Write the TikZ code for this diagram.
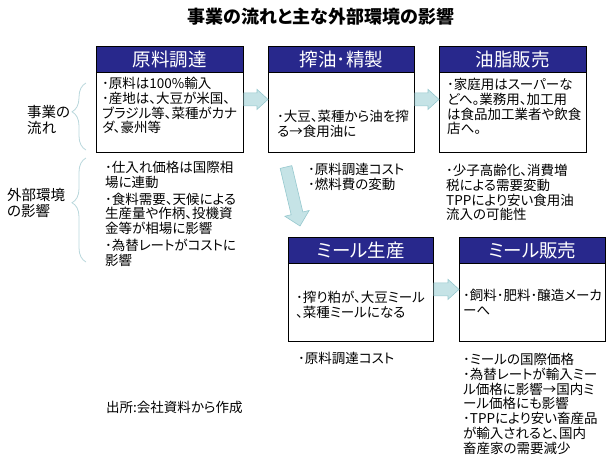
\documentclass[tikz,border=0pt]{standalone}
\usepackage{fontspec}
\setmainfont{Noto Sans CJK JP}[RawFeature=+palt]
\usepackage{tikz}
\usetikzlibrary{calc,decorations.pathreplacing}

\definecolor{hdrblue}{RGB}{40,40,140}
\definecolor{arrowfill}{RGB}{197,227,230}
\definecolor{arrowline}{RGB}{150,200,206}
\definecolor{bracecol}{RGB}{185,215,220}

% block arrow: from, to, shaft half width, head half width, head length
\newcommand{\blockarr}[5]{%
  \filldraw[flowarrow] let \p1=#1, \p2=#2,
    \n1={atan2(\y2-\y1,\x2-\x1)}, \n2={veclen(\x2-\x1,\y2-\y1)} in
    ($(\p1)+(\n1+90:#3)$) -- ($(\p1)+(\n1:\n2-#5)+(\n1+90:#3)$)
    -- ($(\p1)+(\n1:\n2-#5)+(\n1+90:#4)$) -- (\p2)
    -- ($(\p1)+(\n1:\n2-#5)+(\n1-90:#4)$) -- ($(\p1)+(\n1:\n2-#5)+(\n1-90:#3)$)
    -- ($(\p1)+(\n1-90:#3)$) -- cycle;}

\begin{document}
\begin{tikzpicture}[x=1pt,y=-1pt,
    hdr/.style={draw=black, fill=hdrblue, text=white, line width=0.8pt,
      font=\fontsize{18.5}{20}\selectfont, minimum height=26pt, inner sep=0pt, anchor=north west},
    bodybox/.style={draw=black, fill=white, line width=0.8pt, minimum height=80pt,
      inner sep=0pt, anchor=north west},
    txt/.style={anchor=north west, align=left, inner sep=0pt, font=\fontsize{13.5}{14.8}\selectfont},
    lab/.style={anchor=north west, align=left, inner sep=0pt, font=\fontsize{14.5}{16.5}\selectfont},
    rowbrace/.style={decorate, decoration={brace, amplitude=14pt, aspect=0.57},
      draw=bracecol, line width=0.8pt},
    flowarrow/.style={fill=arrowfill, draw=arrowline, line width=0.6pt}]
\useasboundingbox (0,0) rectangle (611,464);

\node[font=\bfseries\fontsize{18}{20}\selectfont] (title) at (321,17) {事業の流れと主な外部環境の影響};

\node[hdr, minimum width=147pt] (h1) at (96,46) {原料調達};
\node[bodybox, minimum width=147pt] (b1) at (96,72) {};
\node[hdr, minimum width=146pt] (h2) at (268,46) {搾油･精製};
\node[bodybox, minimum width=146pt] (b2) at (268,72) {};
\node[hdr, minimum width=147pt] (h3) at (439,46) {油脂販売};
\node[bodybox, minimum width=147pt] (b3) at (439,72) {};
\node[hdr, minimum width=145pt] (h4) at (288,237) {ミール生産};
\node[bodybox, minimum width=145pt, minimum height=78pt] (b4) at (288,263) {};
\node[hdr, minimum width=146pt] (h5) at (459,237) {ミール販売};
\node[bodybox, minimum width=146pt, minimum height=78pt] (b5) at (459,263) {};

\node[txt] (t1) at (102,77) {･原料は100\%輸入\\･産地は、大豆が米国、\\ブラジル等、菜種がカナ\\ダ、豪州等};
\node[txt] (t2) at (277,110) {･大豆、菜種から油を搾\\る→食用油に};
\node[txt] (t3) at (447,78) {･家庭用はスーパーな\\どへ。業務用、加工用\\は食品加工業者や飲食\\店へ。};
\node[txt] (t4) at (296,291) {･搾り粕が、大豆ミール\\、菜種ミールになる};
\node[txt] (t5) at (463,289) {･飼料･肥料･醸造メーカ\\ーへ};

\node[txt] (e1) at (105,161) {･仕入れ価格は国際相\\場に連動\\[2pt]･食料需要、天候による\\生産量や作柄、投機資\\金等が相場に影響\\[2pt]･為替レートがコストに\\影響};
\node[txt] (e2) at (308,163) {･原料調達コスト\\･燃料費の変動};
\node[txt] (e3) at (446,164) {･少子高齢化、消費増\\税による需要変動\\TPPにより安い食用油\\流入の可能性};
\node[txt] (e4) at (298,352) {･原料調達コスト};
\node[txt] (e5) at (463,353) {･ミールの国際価格\\･為替レートが輸入ミー\\ル価格に影響→国内ミ\\ール価格にも影響\\･TPPにより安い畜産品\\が輸入されると、国内\\畜産家の需要減少};

\node[lab] (flow) at (27,105) {事業の\\流れ};
\node[lab] (env) at (7,188) {外部環境\\の影響};
\draw[rowbrace] (86,150) -- (86,83);
\draw[rowbrace] (86,262) -- (86,158);

\node[txt] (src) at (106,401) {出所:会社資料から作成};

\blockarr{($(h1.north east)!0.5!(b1.south east)$)}{($(h2.north west)!0.5!(b2.south west)$)}{6.5pt}{10pt}{11pt}
\blockarr{($(h2.north east)!0.5!(b2.south east)$)}{($(h3.north west)!0.5!(b3.south west)$)}{6.5pt}{10pt}{11pt}
\blockarr{($(h4.north east)!0.5!(b4.south east)$)}{($(h5.north west)!0.5!(b5.south west)$)}{6.5pt}{10pt}{11pt}
\coordinate (dtail) at (286,167);
\coordinate (dtip) at (300,226);
\blockarr{(dtail)}{(dtip)}{6pt}{12.5pt}{13pt}
\end{tikzpicture}
\end{document}
